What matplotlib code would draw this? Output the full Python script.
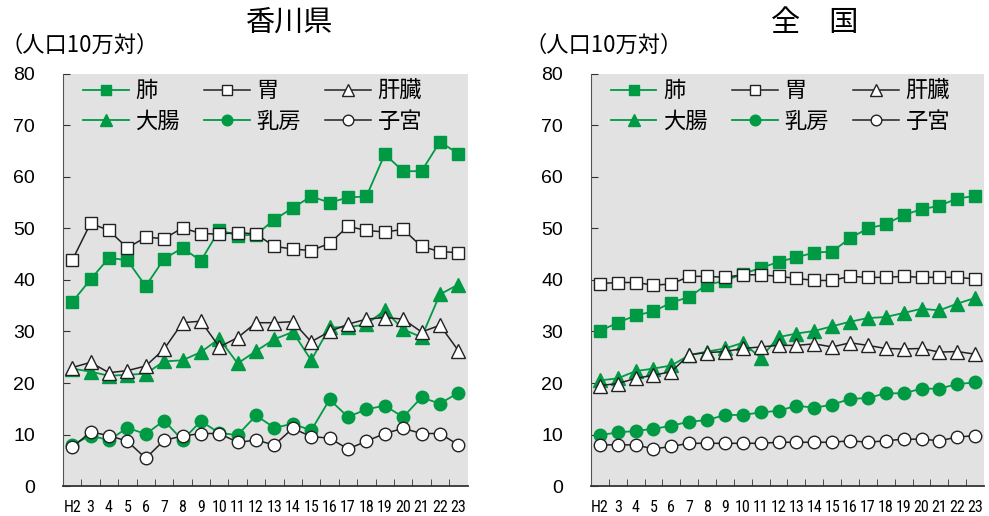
import matplotlib.pyplot as plt
import numpy as np

plt.rcParams['font.family'] = ['Noto Sans CJK JP', 'DejaVu Sans']

years = ["H2", "3", "4", "5", "6", "7", "8", "9", "10", "11", "12",
         "13", "14", "15", "16", "17", "18", "19", "20", "21", "22", "23"]

# 香川県
kg_lung = [35.7, 40.1, 44.3, 43.8, 38.8, 44.1, 46.2, 43.7, 49.7, 48.6, 48.8,
           51.7, 54.0, 56.2, 55.0, 56.0, 56.2, 64.4, 61.1, 61.1, 66.8, 64.5]
kg_stomach = [43.8, 51.0, 49.6, 46.2, 48.3, 48.0, 50.1, 49.0, 48.9, 49.2, 48.9,
              46.5, 46.0, 45.7, 47.1, 50.4, 49.6, 49.3, 49.8, 46.5, 45.5, 45.3]
kg_liver = [23.0, 24.0, 22.0, 22.4, 23.3, 26.6, 31.7, 32.0, 27.0, 28.8, 31.7,
            31.7, 31.9, 28.0, 30.0, 31.4, 32.4, 32.7, 32.4, 29.9, 31.2, 26.3]
kg_colon = [22.8, 22.2, 21.4, 21.6, 21.8, 24.2, 24.4, 26.0, 28.6, 23.8, 26.2,
            28.5, 29.9, 24.4, 30.8, 30.8, 31.4, 34.1, 30.4, 28.9, 37.2, 39.1]
kg_breast = [8.0, 9.8, 8.9, 11.3, 10.1, 12.7, 8.9, 12.6, 10.3, 9.9, 13.7,
             11.3, 12.1, 10.8, 16.8, 13.4, 14.9, 15.6, 13.4, 17.2, 16.0, 18.1]
kg_uterus = [7.5, 10.5, 9.8, 8.7, 5.4, 8.9, 9.7, 10.2, 10.2, 8.5, 8.9,
             8.0, 11.2, 9.6, 9.3, 7.2, 8.7, 10.2, 11.2, 10.2, 10.2, 8.0]

# 全国
jp_lung = [30.1, 31.7, 33.1, 33.9, 35.6, 36.7, 39.1, 39.8, 41.2, 42.3, 43.5,
           44.4, 45.3, 45.5, 48.1, 50.0, 50.8, 52.6, 53.7, 54.4, 55.8, 56.3]
jp_stomach = [39.3, 39.5, 39.5, 39.0, 39.2, 40.7, 40.7, 40.5, 41.0, 41.0, 40.7,
              40.3, 39.9, 39.9, 40.7, 40.5, 40.5, 40.7, 40.5, 40.5, 40.5, 40.2]
jp_liver = [19.5, 19.9, 20.9, 21.5, 22.2, 25.5, 25.9, 26.1, 26.7, 27.0, 27.3,
            27.3, 27.6, 27.0, 27.8, 27.3, 26.7, 26.6, 26.7, 26.0, 26.1, 25.6]
jp_colon = [20.5, 20.9, 22.3, 22.8, 23.4, 25.4, 26.1, 26.7, 27.8, 24.9, 28.9,
            29.6, 30.1, 31.0, 31.9, 32.6, 32.8, 33.6, 34.4, 34.1, 35.4, 36.5]
jp_breast = [9.9, 10.4, 10.7, 11.1, 11.7, 12.5, 12.8, 13.8, 13.8, 14.3, 14.6,
             15.6, 15.2, 15.8, 16.9, 17.1, 18.0, 18.0, 18.9, 18.9, 19.8, 20.1]
jp_uterus = [8.0, 8.0, 8.0, 7.2, 7.7, 8.3, 8.3, 8.3, 8.3, 8.3, 8.5,
             8.5, 8.5, 8.5, 8.8, 8.5, 8.8, 9.1, 9.1, 8.8, 9.5, 9.8]

GREEN = "#009a44"
BG = "#e2e2e2"
DARK = "#222222"
x = np.arange(len(years))


def draw(ax, lung, stomach, liver, colon, breast, uterus, title, tx):
    ax.set_facecolor(BG)
    ms = 9
    h_lung, = ax.plot(x, lung, color=GREEN, marker="s", ms=ms, mfc=GREEN, mec=GREEN, lw=1.3, label="肺")
    h_colon, = ax.plot(x, colon, color=GREEN, marker="^", ms=ms + 1, mfc=GREEN, mec=GREEN, lw=1.3, label="大腸")
    h_liver, = ax.plot(x, liver, color=DARK, marker="^", ms=ms + 1, mfc="white", mec=DARK, lw=1.1, label="肝臓")
    h_stom, = ax.plot(x, stomach, color=DARK, marker="s", ms=ms, mfc="white", mec=DARK, lw=1.1, label="胃")
    h_breast, = ax.plot(x, breast, color=GREEN, marker="o", ms=ms, mfc=GREEN, mec=GREEN, lw=1.3, label="乳房")
    h_ut, = ax.plot(x, uterus, color=DARK, marker="o", ms=ms, mfc="white", mec=DARK, lw=1.1, label="子宮")

    ax.set_xlim(-0.5, len(years) - 0.5)
    ax.set_ylim(0, 80)
    ax.set_yticks(range(0, 81, 10))
    ax.set_xticks(x)
    ax.set_xticklabels(years, family=['Roboto Condensed', 'DejaVu Sans'], fontsize=11.5)
    ax.set_xticks(x[:-1] + 0.5, minor=True)
    ax.tick_params(axis="x", which="major", length=0, pad=10)
    ax.tick_params(axis="x", which="minor", direction="in", length=5, color="#333333")
    ax.tick_params(axis="y", direction="in", length=5, pad=20, labelsize=14, color="#333333")
    for lab in ax.get_yticklabels():
        lab.set_family(['Liberation Sans', 'DejaVu Sans'])
    for s in ["top", "right"]:
        ax.spines[s].set_visible(False)
    ax.spines["left"].set_color("#555555")
    ax.spines["bottom"].set_color("#333333")
    ax.spines["bottom"].set_linewidth(1.3)

    # 凡例は3列2行（行ごとに 肺/胃/肝臓, 大腸/乳房/子宮）
    handles = [h_lung, h_colon, h_stom, h_breast, h_liver, h_ut]
    ax.legend(handles=handles, ncol=3, frameon=False, loc="upper left",
              bbox_to_anchor=(0.0, 1.035), fontsize=16, handlelength=2.05,
              handletextpad=0.3, columnspacing=1.1, labelspacing=0.35, markerscale=0.85)

    fig.text(tx, 0.955, title, ha="center", va="center", fontsize=21)


fig = plt.figure(figsize=(9.89, 5.16), dpi=100)
ax1 = fig.add_axes([0.0637, 0.058, 0.409, 0.799])
ax2 = fig.add_axes([0.5975, 0.058, 0.3975, 0.799])

draw(ax1, kg_lung, kg_stomach, kg_liver, kg_colon, kg_breast, kg_uterus, "香川県", 0.293)
draw(ax2, jp_lung, jp_stomach, jp_liver, jp_colon, jp_breast, jp_uterus, "全　国", 0.824)

fig.text(0.0, 0.913, "（人口10万対）", ha="left", va="center", fontsize=16)
fig.text(0.53, 0.913, "（人口10万対）", ha="left", va="center", fontsize=16)

fig.savefig("out.png", dpi=100)
